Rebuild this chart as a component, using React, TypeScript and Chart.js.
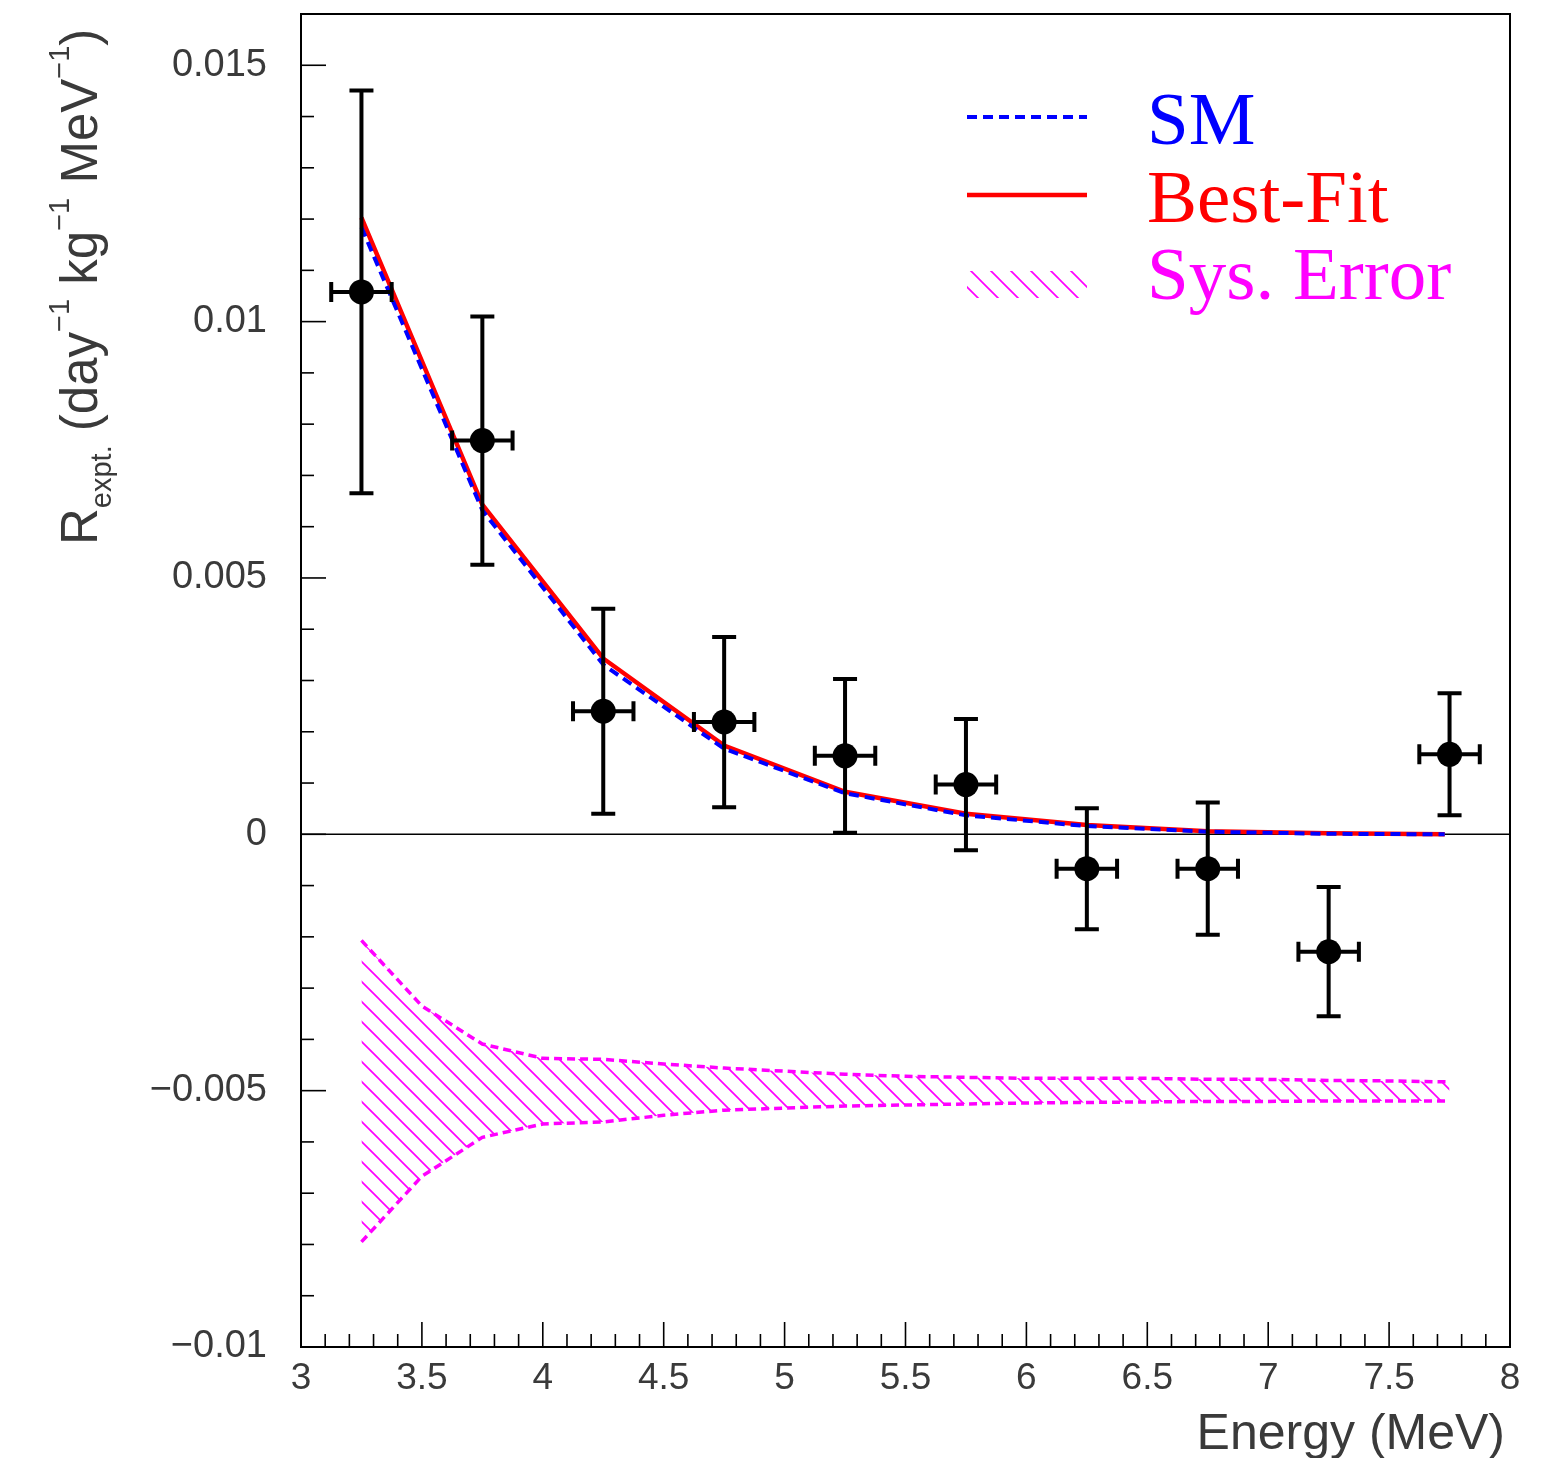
import React, { useEffect, useRef } from 'react';
import { Chart, registerables } from 'chart.js';

Chart.register(...registerables);

// ---- data ----
const ENERGY = [3.25, 3.75, 4.25, 4.75, 5.25, 5.75, 6.25, 6.75, 7.25, 7.75];
const RATE = [0.01058, 0.00768, 0.0024, 0.00219, 0.00153, 0.00097, -0.00067, -0.00067, -0.00229, 0.00156];
const RATE_ERR = [0.00393, 0.00242, 0.002, 0.00166, 0.0015, 0.00128, 0.00118, 0.00129, 0.00126, 0.00119];
const ENERGY_ERR = [0.125, 0.125, 0.125, 0.125, 0.125, 0.125, 0.125, 0.125, 0.125, 0.125];

const CURVE_E = [3.25, 3.75, 4.25, 4.75, 5.25, 5.75, 6.25, 6.75, 7.25, 7.73];
const BESTFIT = [0.01203, 0.00643, 0.00343, 0.00173, 0.00083, 0.0004, 0.00018, 0.00006, 0.00002, 0.0];
const SM = [0.01184, 0.00632, 0.00331, 0.00167, 0.0008, 0.00037, 0.00016, 0.00005, 0.00001, 0.0];

const BAND_E = [3.25, 3.5, 3.75, 4, 4.25, 4.5, 4.75, 5, 5.25, 5.5, 5.75, 6, 6.25, 6.5, 6.75, 7, 7.25, 7.5, 7.75];
const BAND_UP = [-0.00207, -0.00335, -0.00409, -0.00437, -0.00439, -0.00448, -0.00456, -0.00462, -0.00468, -0.00472, -0.00474, -0.00476, -0.00476, -0.00476, -0.00478, -0.00478, -0.0048, -0.00481, -0.00483];
const BAND_LO = [-0.00795, -0.00667, -0.00591, -0.00565, -0.00561, -0.00548, -0.00538, -0.00534, -0.0053, -0.00528, -0.00526, -0.00524, -0.00523, -0.00522, -0.00521, -0.00521, -0.0052, -0.0052, -0.0052];

const X_TICKS = [3, 3.5, 4, 4.5, 5, 5.5, 6, 6.5, 7, 7.5, 8];
const Y_TICKS = [-0.01, -0.005, 0, 0.005, 0.01, 0.015];
const X_MINOR_STEP = 0.1;
const Y_MINOR_STEP = 0.001;
const X_MIN = 3, X_MAX = 8, Y_MIN = -0.01, Y_MAX = 0.016;

const LEGEND_LABELS = ['SM', 'Best-Fit', 'Sys. Error'];
const X_TITLE = 'Energy (MeV)';

const BLUE = '#0000ff';
const RED = '#ff0000';
const MAGENTA = '#ff00ff';
const AXIS_TEXT = '#3a3a3a';
const SANS = '"Liberation Sans", Arial, Helvetica, sans-serif';
const SERIF = '"Liberation Serif", "Times New Roman", serif';

function makeHatch(color: string): CanvasPattern | string {
  const s = 20;
  const c = document.createElement('canvas');
  c.width = s;
  c.height = s;
  const g = c.getContext('2d');
  if (!g) return color;
  g.strokeStyle = color;
  g.lineWidth = 1.7;
  for (const k of [-1, 0, 1]) {
    g.beginPath();
    g.moveTo(-3, k * s - 3);
    g.lineTo(s + 3, k * s + s + 3);
    g.stroke();
  }
  return g.createPattern(c, 'repeat') || color;
}

function fmtY(v: number): string {
  if (Math.abs(v) < 1e-12) return '0';
  const s = String(Math.abs(Number(v.toFixed(6))));
  return (v < 0 ? '\u2212' : '') + s;
}

export default function App() {
  const ref = useRef<HTMLCanvasElement | null>(null);

  useEffect(() => {
    document.body.style.margin = '0';
    const canvas = ref.current;
    if (!canvas) return;
    const hatch = makeHatch(MAGENTA);

    const zeroLinePlugin = {
      id: 'zeroLine',
      beforeDatasetsDraw(chart: any) {
        const { ctx, chartArea, scales } = chart;
        const y0 = scales.y.getPixelForValue(0);
        ctx.save();
        ctx.strokeStyle = '#000';
        ctx.lineWidth = 1.5;
        ctx.beginPath();
        ctx.moveTo(chartArea.left, y0);
        ctx.lineTo(chartArea.right, y0);
        ctx.stroke();
        ctx.restore();
      },
    };

    const errorBarPlugin = {
      id: 'errorBars',
      afterDatasetsDraw(chart: any) {
        const { ctx, scales } = chart;
        const xs = scales.x, ys = scales.y;
        ctx.save();
        ctx.strokeStyle = '#000';
        ctx.lineWidth = 4;
        ctx.lineCap = 'butt';
        ENERGY.forEach((e, i) => {
          const px = xs.getPixelForValue(e);
          const py = ys.getPixelForValue(RATE[i]);
          const yt = ys.getPixelForValue(RATE[i] + RATE_ERR[i]);
          const yb = ys.getPixelForValue(RATE[i] - RATE_ERR[i]);
          const xl = xs.getPixelForValue(e - ENERGY_ERR[i]);
          const xr = xs.getPixelForValue(e + ENERGY_ERR[i]);
          ctx.beginPath();
          ctx.moveTo(px, yt); ctx.lineTo(px, yb);
          ctx.moveTo(px - 12, yt); ctx.lineTo(px + 12, yt);
          ctx.moveTo(px - 12, yb); ctx.lineTo(px + 12, yb);
          ctx.moveTo(xl, py); ctx.lineTo(xr, py);
          ctx.moveTo(xl, py - 10); ctx.lineTo(xl, py + 10);
          ctx.moveTo(xr, py - 10); ctx.lineTo(xr, py + 10);
          ctx.stroke();
        });
        ctx.restore();
      },
    };

    const framePlugin = {
      id: 'frameTicks',
      afterDraw(chart: any) {
        const { ctx, chartArea, scales } = chart;
        const xs = scales.x, ys = scales.y;
        const { left, right, top, bottom } = chartArea;
        ctx.save();
        ctx.strokeStyle = '#000';
        ctx.lineWidth = 2;
        ctx.strokeRect(left, top, right - left, bottom - top);
        ctx.lineWidth = 1.6;
        // y ticks
        const ny = Math.round((Y_MAX - Y_MIN) / Y_MINOR_STEP);
        for (let k = 0; k <= ny; k++) {
          const v = Y_MIN + k * Y_MINOR_STEP;
          const major = Y_TICKS.some((t) => Math.abs(t - v) < 1e-9);
          const py = ys.getPixelForValue(v);
          ctx.beginPath();
          ctx.moveTo(left, py);
          ctx.lineTo(left + (major ? 25 : 13), py);
          ctx.stroke();
        }
        // x ticks
        const nx = Math.round((X_MAX - X_MIN) / X_MINOR_STEP);
        for (let k = 0; k <= nx; k++) {
          const v = X_MIN + k * X_MINOR_STEP;
          const major = X_TICKS.some((t) => Math.abs(t - v) < 1e-9);
          const px = xs.getPixelForValue(v);
          ctx.beginPath();
          ctx.moveTo(px, bottom);
          ctx.lineTo(px, bottom - (major ? 25 : 13));
          ctx.stroke();
        }

        // axis titles
        ctx.fillStyle = AXIS_TEXT;
        ctx.textBaseline = 'alphabetic';
        ctx.textAlign = 'right';
        ctx.font = `50px ${SANS}`;
        ctx.fillText(X_TITLE, 1505, 1449);

        // y title, rotated
        ctx.save();
        ctx.translate(97, 545);
        ctx.rotate(-Math.PI / 2);
        ctx.textAlign = 'left';
        const main = `51px ${SANS}`;
        const small = `29px ${SANS}`;
        const parts: [string, string, number][] = [
          ['R', main, 0],
          ['expt.', small, 14],
          [' (day', main, 0],
          ['\u22121', small, -28],
          [' kg', main, 0],
          ['\u22121', small, -28],
          [' MeV', main, 0],
          ['\u22121', small, -28],
          [')', main, 0],
        ];
        let cx = 0;
        for (const [t, f, dy] of parts) {
          ctx.font = f;
          ctx.fillText(t, cx, dy);
          cx += ctx.measureText(t).width;
        }
        ctx.restore();

        // legend
        const lx0 = 967, lx1 = 1087, tx = 1147;
        ctx.lineWidth = 4;
        ctx.strokeStyle = BLUE;
        ctx.setLineDash([10, 6]);
        ctx.beginPath();
        ctx.moveTo(lx0, 117); ctx.lineTo(lx1, 117);
        ctx.stroke();
        ctx.setLineDash([]);
        ctx.strokeStyle = RED;
        ctx.lineWidth = 4.5;
        ctx.beginPath();
        ctx.moveTo(lx0, 195); ctx.lineTo(lx1, 195);
        ctx.stroke();
        ctx.fillStyle = hatch as any;
        ctx.fillRect(lx0, 271, lx1 - lx0, 27);

        ctx.textAlign = 'left';
        ctx.font = `75px ${SERIF}`;
        ctx.fillStyle = BLUE;
        ctx.fillText(LEGEND_LABELS[0], tx, 144);
        ctx.fillStyle = RED;
        ctx.fillText(LEGEND_LABELS[1], tx, 222);
        ctx.fillStyle = MAGENTA;
        ctx.fillText(LEGEND_LABELS[2], tx, 299);
        ctx.restore();
      },
    };

    const chart = new Chart(canvas, {
      type: 'scatter',
      data: {
        datasets: [
          {
            label: 'points',
            data: ENERGY.map((x, i) => ({ x, y: RATE[i] })),
            pointRadius: 12.5,
            pointBackgroundColor: '#000',
            pointBorderColor: '#000',
            pointBorderWidth: 0,
            showLine: false,
            order: 0,
          },
          {
            label: 'SM',
            data: CURVE_E.map((x, i) => ({ x, y: SM[i] })),
            showLine: true,
            borderColor: BLUE,
            borderWidth: 4,
            borderDash: [10, 6],
            pointRadius: 0,
            fill: false,
            order: 1,
          },
          {
            label: 'Best-Fit',
            data: CURVE_E.map((x, i) => ({ x, y: BESTFIT[i] })),
            showLine: true,
            borderColor: RED,
            borderWidth: 4.5,
            pointRadius: 0,
            fill: false,
            order: 2,
          },
          {
            label: 'Sys upper',
            data: BAND_E.map((x, i) => ({ x, y: BAND_UP[i] })),
            showLine: true,
            borderColor: MAGENTA,
            borderWidth: 3.5,
            borderDash: [8, 5],
            pointRadius: 0,
            backgroundColor: hatch as any,
            fill: '+1',
            order: 3,
          },
          {
            label: 'Sys lower',
            data: BAND_E.map((x, i) => ({ x, y: BAND_LO[i] })),
            showLine: true,
            borderColor: MAGENTA,
            borderWidth: 3.5,
            borderDash: [8, 5],
            pointRadius: 0,
            fill: false,
            order: 4,
          },
        ],
      },
      options: {
        responsive: false,
        animation: false,
        layout: { padding: { top: 14, right: 53, left: 0, bottom: 0 } },
        plugins: { legend: { display: false }, tooltip: { enabled: false } },
        scales: {
          x: {
            type: 'linear',
            min: X_MIN,
            max: X_MAX,
            afterBuildTicks: (s: any) => { s.ticks = X_TICKS.map((v) => ({ value: v })); },
            afterFit: (s: any) => { s.height = 111; s.paddingLeft = 0; s.paddingRight = 0; },
            grid: { display: false, drawTicks: false },
            border: { display: false },
            ticks: {
              padding: 10,
              color: AXIS_TEXT,
              font: { family: SANS, size: 37 },
              maxRotation: 0,
              autoSkip: false,
              callback: (v: any) => String(v),
            },
          },
          y: {
            type: 'linear',
            min: Y_MIN,
            max: Y_MAX,
            afterBuildTicks: (s: any) => { s.ticks = Y_TICKS.map((v) => ({ value: v })); },
            afterFit: (s: any) => { s.width = 301; s.paddingTop = 0; s.paddingBottom = 0; },
            grid: { display: false, drawTicks: false },
            border: { display: false },
            ticks: {
              padding: 34,
              color: AXIS_TEXT,
              font: { family: SANS, size: 38 },
              autoSkip: false,
              callback: (v: any) => fmtY(Number(v)),
            },
          },
        },
      } as any,
      plugins: [zeroLinePlugin, errorBarPlugin, framePlugin],
    });
    return () => chart.destroy();
  }, []);

  return (
    <canvas
      ref={ref}
      width={1563}
      height={1458}
      style={{ display: 'block', width: 1563, height: 1458 }}
    />
  );
}
